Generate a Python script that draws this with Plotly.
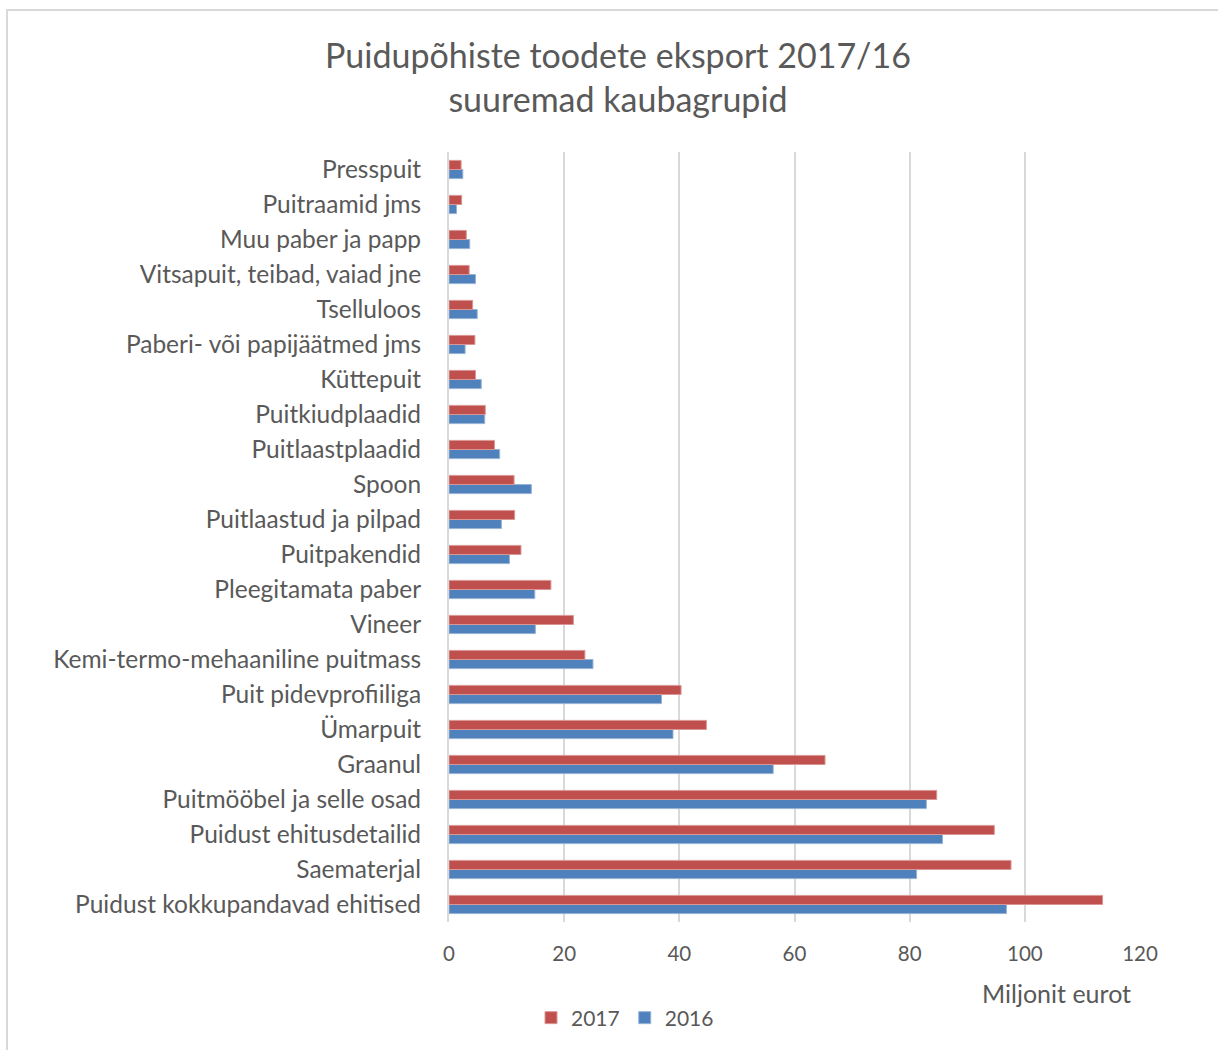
import plotly.graph_objects as go

categories = [
    "Puidust kokkupandavad ehitised", "Saematerjal", "Puidust ehitusdetailid",
    "Puitmööbel ja selle osad", "Graanul", "Ümarpuit", "Puit pidevprofiiliga",
    "Kemi-termo-mehaaniline puitmass", "Vineer", "Pleegitamata paber",
    "Puitpakendid", "Puitlaastud ja pilpad", "Spoon", "Puitlaastplaadid",
    "Puitkiudplaadid", "Küttepuit", "Paberi- või papijäätmed jms", "Tselluloos",
    "Vitsapuit, teibad, vaiad jne", "Muu paber ja papp", "Puitraamid jms", "Presspuit",
]
values_2017 = [113.5, 97.6, 94.7, 84.7, 65.3, 44.7, 40.3, 23.6, 21.6, 17.7,
               12.5, 11.4, 11.3, 7.9, 6.3, 4.6, 4.5, 4.1, 3.5, 3.0, 2.2, 2.1]
values_2016 = [96.8, 81.2, 85.7, 82.9, 56.3, 38.9, 36.9, 25.0, 15.0, 14.9,
               10.5, 9.1, 14.3, 8.8, 6.2, 5.6, 2.8, 4.9, 4.6, 3.6, 1.3, 2.4]
x_ticks = [0, 20, 40, 60, 80, 100, 120]

FONT = "Lato"
GREY = "#595959"

fig = go.Figure()
fig.add_trace(go.Bar(y=categories, x=values_2016, name="2016", orientation="h",
                     marker=dict(color="#4F81BD", line=dict(color="#95B3D7", width=1))))
fig.add_trace(go.Bar(y=categories, x=values_2017, name="2017", orientation="h",
                     marker=dict(color="#C0504D", line=dict(color="#D99694", width=1))))

L, R, T, B = 449, 78, 152, 128
W, H = 1218, 1050
pw, ph = W - L - R, H - T - B

def px(x):
    return (x - L) / pw

def py(y):
    return (H - B - y) / ph

fig.update_layout(
    width=W, height=H,
    margin=dict(l=L, r=R, t=T, b=B),
    paper_bgcolor="white", plot_bgcolor="white",
    barmode="group", bargap=0.48, bargroupgap=0.0,
    font=dict(family=FONT, color=GREY),
    title=dict(text="Puidupõhiste toodete eksport 2017/16<br>suuremad kaubagrupid",
               x=618 / W, xanchor="center", y=1 - 68 / H, yanchor="middle",
               font=dict(size=34, color=GREY, family=FONT)),
    xaxis=dict(range=[0, 120], tickvals=x_ticks, showgrid=True, gridcolor="#D9D9D9",
               gridwidth=2, zeroline=False, showline=False,
               tickfont=dict(size=20.5, color=GREY), ticks="", ticklen=0,
               ticklabelstandoff=17),
    yaxis=dict(showgrid=False, zeroline=False, showline=True, linecolor="#D9D9D9",
               linewidth=2, tickfont=dict(size=24.5, color=GREY), ticks="",
               ticklabelstandoff=21),
    legend=dict(orientation="h", x=px(625), xanchor="center", y=py(1018), yanchor="middle",
                traceorder="reversed", font=dict(size=21, color=GREY),
                itemwidth=30),
    showlegend=True,
)
fig.add_annotation(text="Miljonit eurot", xref="paper", yref="paper",
                   x=px(1133), y=py(993), xanchor="right", yanchor="middle",
                   showarrow=False, font=dict(size=25, color=GREY, family=FONT))
fig.add_shape(type="rect", xref="paper", yref="paper",
              x0=px(7), x1=px(1230), y0=py(1060), y1=py(10),
              line=dict(color="#D9D9D9", width=2), layer="below")

fig.write_html("out.html", config={"displayModeBar": False},
               post_script="document.body.style.margin='0';")
